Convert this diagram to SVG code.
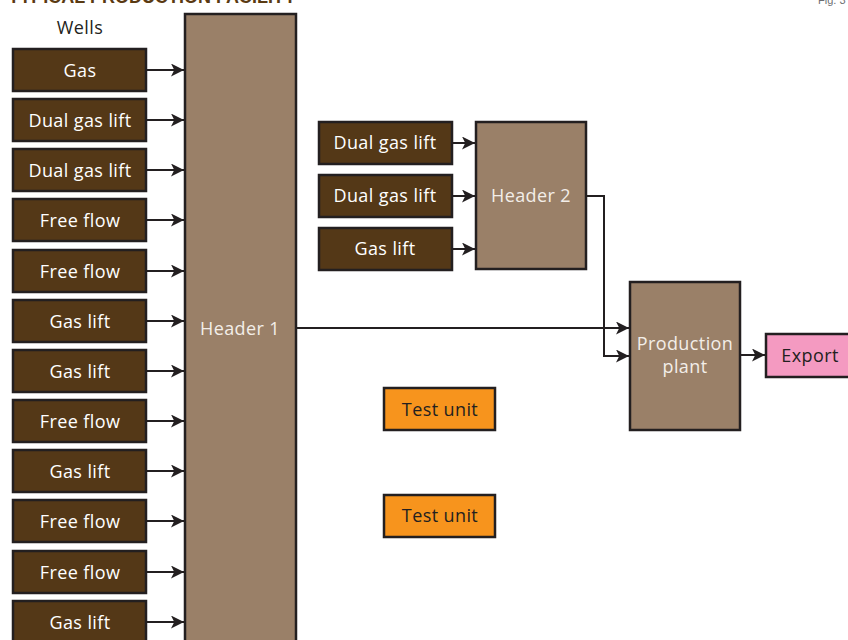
<svg xmlns="http://www.w3.org/2000/svg" width="848" height="640" viewBox="0 0 848 640">
<style>
text{font-family:"Open Sans","Liberation Sans",Arial,sans-serif;font-size:18px;text-anchor:middle;letter-spacing:0.4px}
.well rect{fill:#543817;stroke:#231f20;stroke-width:2.5}
.well text{fill:#ffffff}
.hdr rect{fill:#9a8068;stroke:#231f20;stroke-width:2.5}
.hdr text{fill:#f3eee8}
.test rect{fill:#f7941d;stroke:#231f20;stroke-width:2.5}
.test text{fill:#231f20}
.conn path{fill:none;stroke:#231f20;stroke-width:2;marker-end:url(#ah)}
</style>
<defs>
<marker id="ah" viewBox="0 0 10 10" refX="10" refY="5" markerWidth="13" markerHeight="13" markerUnits="userSpaceOnUse" orient="auto">
<path d="M0,0 L10,5 L0,10 L2.5,5 Z" fill="#231f20"/>
</marker>
</defs>
<rect width="848" height="640" fill="#ffffff"/>
<text x="296" y="3" style="font-family:'Liberation Sans',Arial,sans-serif;font-weight:bold;font-size:18px;text-anchor:end;fill:#5a3a12;letter-spacing:0">TYPICAL PRODUCTION FACILITY</text>
<text x="818" y="4" style="font-family:'Liberation Sans',Arial,sans-serif;font-size:11px;text-anchor:start;fill:#6d6e71;letter-spacing:0">Fig. 3</text>
<text x="80" y="34" style="fill:#231f20">Wells</text>

<g id="header1" class="hdr"><rect x="185" y="14" width="111" height="640"/><text x="240" y="335">Header 1</text></g>
<g id="header2" class="hdr"><rect x="476" y="122" width="110" height="147"/><text x="531" y="202">Header  2</text></g>
<g id="plant" class="hdr"><rect x="630" y="282" width="110" height="148"/><text x="685" y="350">Production</text><text x="685" y="373">plant</text></g>
<g id="export"><rect x="766" y="334" width="90" height="43" fill="#f49ac1" stroke="#231f20" stroke-width="2.5"/><text x="810" y="362" fill="#231f20">Export</text></g>
<g id="test1" class="test"><rect x="384" y="388" width="111" height="42"/><text x="440" y="416">Test unit</text></g>
<g id="test2" class="test"><rect x="384" y="495" width="111" height="42"/><text x="440" y="522">Test unit</text></g>

<g id="w1" class="well"><rect x="13" y="49" width="133" height="42"/><text x="80" y="77">Gas</text></g>
<g id="w2" class="well"><rect x="13" y="99" width="133" height="42"/><text x="80" y="127">Dual gas lift</text></g>
<g id="w3" class="well"><rect x="13" y="149" width="133" height="42"/><text x="80" y="177">Dual gas lift</text></g>
<g id="w4" class="well"><rect x="13" y="199" width="133" height="42"/><text x="80" y="227">Free flow</text></g>
<g id="w5" class="well"><rect x="13" y="250" width="133" height="42"/><text x="80" y="278">Free flow</text></g>
<g id="w6" class="well"><rect x="13" y="300" width="133" height="42"/><text x="80" y="328">Gas lift</text></g>
<g id="w7" class="well"><rect x="13" y="350" width="133" height="42"/><text x="80" y="378">Gas lift</text></g>
<g id="w8" class="well"><rect x="13" y="400" width="133" height="42"/><text x="80" y="428">Free flow</text></g>
<g id="w9" class="well"><rect x="13" y="450" width="133" height="42"/><text x="80" y="478">Gas lift</text></g>
<g id="w10" class="well"><rect x="13" y="500" width="133" height="42"/><text x="80" y="528">Free flow</text></g>
<g id="w11" class="well"><rect x="13" y="551" width="133" height="42"/><text x="80" y="579">Free flow</text></g>
<g id="w12" class="well"><rect x="13" y="601" width="133" height="42"/><text x="80" y="629">Gas lift</text></g>

<g id="w13" class="well"><rect x="319" y="122" width="133" height="42"/><text x="385" y="149">Dual gas lift</text></g>
<g id="w14" class="well"><rect x="319" y="175" width="133" height="42"/><text x="385" y="202">Dual gas lift</text></g>
<g id="w15" class="well"><rect x="319" y="228" width="133" height="42"/><text x="385" y="255">Gas lift</text></g>

<g id="connectors" class="conn">
<path d="M147,70 H184"/>
<path d="M147,120 H184"/>
<path d="M147,170 H184"/>
<path d="M147,220 H184"/>
<path d="M147,271 H184"/>
<path d="M147,321 H184"/>
<path d="M147,371 H184"/>
<path d="M147,421 H184"/>
<path d="M147,471 H184"/>
<path d="M147,521 H184"/>
<path d="M147,572 H184"/>
<path d="M147,622 H184"/>
<path d="M453,143 H475"/>
<path d="M453,196 H475"/>
<path d="M453,249 H475"/>
<path d="M297,328 H629"/>
<path d="M587,196 H604 V356 H629"/>
<path d="M741,355 H765"/>
</g>
</svg>
